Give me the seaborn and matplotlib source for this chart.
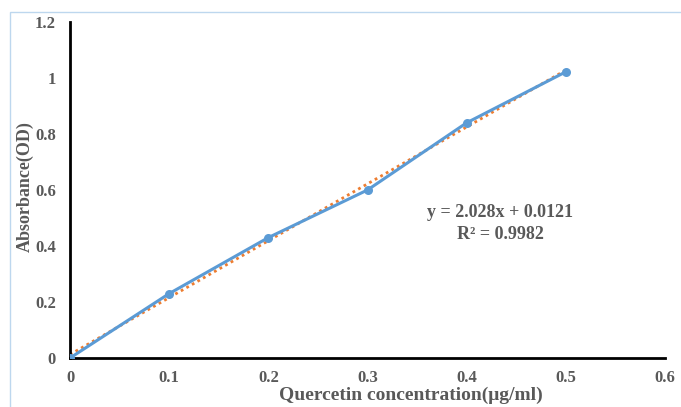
import numpy as np
import pandas as pd
import seaborn as sns
import matplotlib
matplotlib.use("Agg")
import matplotlib.pyplot as plt
from matplotlib.patches import Rectangle

# Quercetin standard curve
concentration = [0.0, 0.1, 0.2, 0.3, 0.4, 0.5]
absorbance = [0.0, 0.23, 0.43, 0.60, 0.84, 1.022]
x_ticks = [0, 0.1, 0.2, 0.3, 0.4, 0.5, 0.6]
y_ticks = [0, 0.2, 0.4, 0.6, 0.8, 1.0, 1.2]
x_tick_labels = ["0", "0.1", "0.2", "0.3", "0.4", "0.5", "0.6"]
y_tick_labels = ["0", "0.2", "0.4", "0.6", "0.8", "1", "1.2"]
equation = "y = 2.028x + 0.0121"
r_squared = "R² = 0.9982"

df = pd.DataFrame({"conc": concentration, "abs": absorbance})

sns.set_style("white")
plt.rcParams["font.family"] = ["Liberation Serif", "DejaVu Serif"]
plt.rcParams["font.weight"] = "bold"

grey = "#595959"
fig = plt.figure(figsize=(6.81, 4.07), dpi=100)
ax = fig.add_axes([0.1028, 0.1204, 0.8737, 0.8256])

# chart area border (cropped at right / bottom)
fig.add_artist(Rectangle((10 / 681, -0.1), 1.2, 1 - 12 / 407 + 0.1,
                         transform=fig.transFigure, fill=False,
                         edgecolor="#BDD7EE", linewidth=1.0))

# linear trend line
slope, intercept = np.polyfit(concentration, absorbance, 1)
fit_x = np.array([concentration[0], concentration[-1]])
ax.plot(fit_x, slope * fit_x + intercept, color="#ED7D31", linestyle=(0, (1, 1.3)),
        linewidth=2.0, zorder=2)

sns.lineplot(data=df, x="conc", y="abs", ax=ax, color="#5B9BD5", linewidth=2.2,
             marker="o", markersize=6.5, markeredgewidth=0, zorder=3)

ax.set_xlim(0, 0.6)
ax.set_ylim(0, 1.2)
ax.set_xticks(x_ticks)
ax.set_xticklabels(x_tick_labels)
ax.set_yticks(y_ticks)
ax.set_yticklabels(y_tick_labels)
ax.tick_params(axis="x", length=0, labelsize=12, labelcolor=grey, pad=9)
ax.tick_params(axis="y", length=0, labelsize=12, labelcolor=grey, pad=10)
for lbl in ax.get_xticklabels() + ax.get_yticklabels():
    lbl.set_fontweight("bold")

for side in ["top", "right"]:
    ax.spines[side].set_visible(False)
for side in ["left", "bottom"]:
    ax.spines[side].set_color("black")
    ax.spines[side].set_linewidth(2.0)

# Excel put the x title a bit right of centre
ax.set_xlabel("Quercetin concentration(μg/ml)", fontsize=14, fontweight="bold",
              color=grey, labelpad=0, x=0.573)
ax.set_ylabel("Absorbance(OD)", fontsize=13, fontweight="bold", color=grey,
              labelpad=1, y=0.51)

ax.text(0.434, 0.52, equation, fontsize=13, fontweight="bold", color=grey,
        ha="center", va="center")
ax.text(0.434, 0.44, r_squared, fontsize=13, fontweight="bold", color=grey,
        ha="center", va="center")

fig.savefig("out.png", dpi=100)
